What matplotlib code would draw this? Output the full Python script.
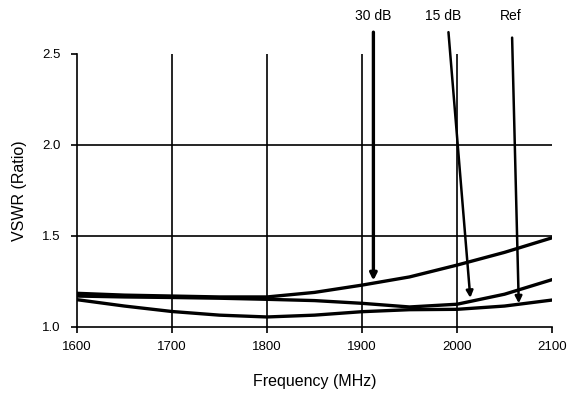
import matplotlib
matplotlib.use('Agg')
import matplotlib.pyplot as plt
import numpy as np

plt.rcParams['font.family'] = ['Liberation Sans', 'DejaVu Sans']

# frequency points (MHz)
freq = [1600, 1650, 1700, 1750, 1800, 1850, 1900, 1950, 2000, 2050, 2100]

# VSWR curves
vswr_30db = [1.185, 1.175, 1.170, 1.165, 1.165, 1.190, 1.230, 1.275, 1.340, 1.410, 1.490]
vswr_15db = [1.170, 1.165, 1.162, 1.158, 1.152, 1.145, 1.130, 1.110, 1.125, 1.180, 1.260]
vswr_ref = [1.150, 1.115, 1.085, 1.065, 1.055, 1.065, 1.084, 1.095, 1.097, 1.115, 1.148]

# arrow annotations: label, start (freq, vswr), tip (freq, vswr)
labels = ['30 dB', '15 dB', 'Ref']
label_x = [1912, 1985, 2057]
arrow_start_x = [1912, 1991, 2058]
arrow_start_y = [2.62, 2.62, 2.59]
arrow_tip_x = [1912, 2014, 2065]
arrow_tip_y = [1.255, 1.16, 1.13]

fig = plt.figure(figsize=(5.77, 3.93), dpi=100)
ax = fig.add_axes([0.1334, 0.168, 0.8233, 0.6946])

for v in [1700, 1800, 1900, 2000]:
    ax.plot([v, v], [1.0, 2.5], color='black', lw=1.2, zorder=1)
for h in [1.5, 2.0]:
    ax.plot([1600, 2100], [h, h], color='black', lw=1.2, zorder=1)

ax.plot(freq, vswr_30db, color='black', lw=2.4, zorder=3)
ax.plot(freq, vswr_15db, color='black', lw=2.4, zorder=3)
ax.plot(freq, vswr_ref, color='black', lw=2.4, zorder=3)

for i in range(len(labels)):
    lw = 2.4 if i == 0 else 1.8
    ax.annotate('', xy=(arrow_tip_x[i], arrow_tip_y[i]),
                xytext=(arrow_start_x[i], arrow_start_y[i]),
                arrowprops=dict(arrowstyle='-|>', color='black', lw=lw,
                                mutation_scale=10, shrinkA=0, shrinkB=0))
    ax.text(label_x[i], 2.71, labels[i], ha='center', va='center',
            fontsize=10, clip_on=False)

ax.set_xlim(1600, 2100)
ax.set_ylim(1.0, 2.5)
ax.set_xticks([1600, 1700, 1800, 1900, 2000, 2100])
ax.set_yticks([1.0, 1.5, 2.0, 2.5])
ax.set_yticklabels(['1.0', '1.5', '2.0', '2.5'])
ax.tick_params(labelsize=9.5, length=4, width=1.2, direction='out')
ax.tick_params(axis='x', pad=6)
ax.tick_params(axis='y', pad=8)
ax.spines['top'].set_visible(False)
ax.spines['right'].set_visible(False)
ax.spines['left'].set_linewidth(1.2)
ax.spines['bottom'].set_linewidth(1.2)
ax.set_xlabel('Frequency (MHz)', fontsize=11.5, labelpad=15)
ax.set_ylabel('VSWR (Ratio)', fontsize=11.5, labelpad=11)

fig.savefig('out.png', dpi=100)
